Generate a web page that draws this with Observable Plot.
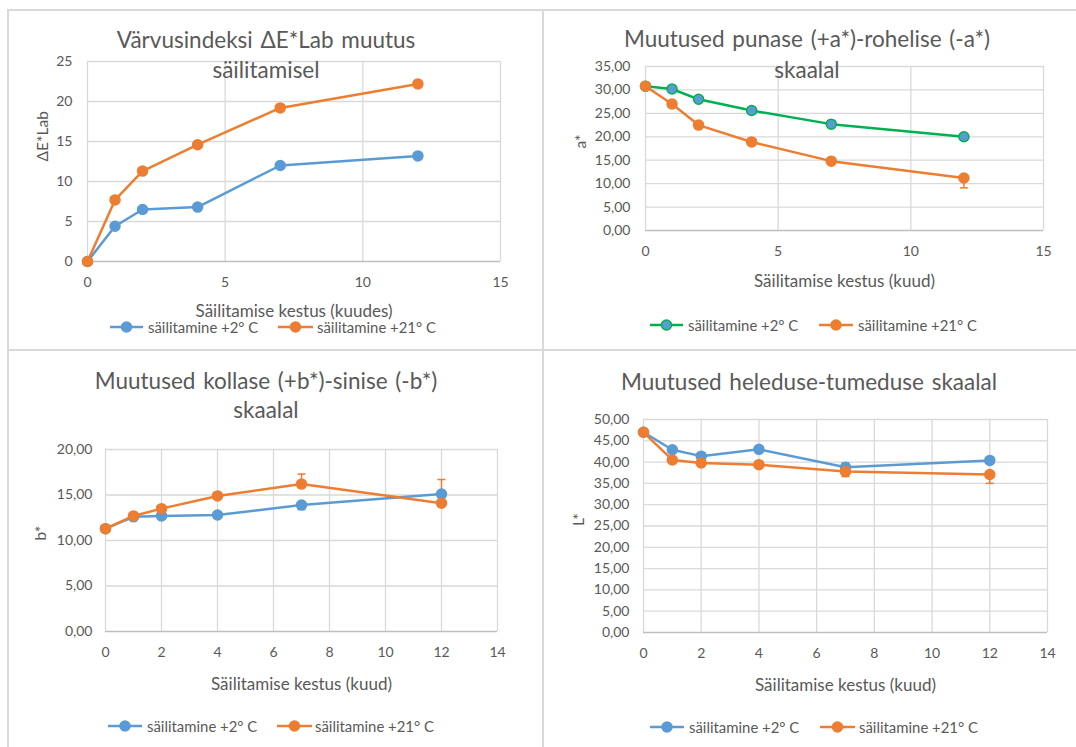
<!DOCTYPE html>
<html><head><meta charset="utf-8">
<script src="https://cdn.jsdelivr.net/npm/d3@7"></script>
<script src="https://cdn.jsdelivr.net/npm/@observablehq/plot@0.6"></script>
<style>
body{margin:0;background:#fff;font-family:Lato,"Open Sans",sans-serif;color:#595959}
#root{position:relative;width:1076px;height:747px;overflow:hidden;background:#fff}
.panel{position:absolute}
.title{position:absolute;width:600px;text-align:center;font-size:22.5px;line-height:1.2;white-space:nowrap;color:#595959;word-spacing:2px}
.legend{position:absolute;height:16px;display:flex;align-items:center;font-size:14.9px;white-space:nowrap;color:#595959}
.border{position:absolute;background:#d9d9d9}
</style></head><body><div id="root"></div>
<script>
// ---------- data ----------
const months = [0, 1, 2, 4, 7, 12];
const seriesNames = ["säilitamine +2° C", "säilitamine +21° C"];

const dE_2  = [0, 4.4, 6.5, 6.8, 12.0, 13.2];
const dE_21 = [0, 7.7, 11.3, 14.6, 19.2, 22.2];

const a_2  = [30.8, 30.2, 28.0, 25.6, 22.7, 20.0];
const a_21 = [30.8, 27.0, 22.5, 18.9, 14.8, 11.2];
const a_21_errMinus = [0, 0, 0, 0, 0, 2.1];

const b_2  = [11.3, 12.6, 12.7, 12.8, 13.9, 15.1];
const b_21 = [11.3, 12.7, 13.5, 14.9, 16.2, 14.1];
const b_2_errMinus = [0, 0, 0, 0, 0.5, 0];
const b_21_errPlus = [0, 0, 0, 0, 1.1, 2.6];

const L_2  = [47.0, 42.9, 41.4, 43.0, 38.8, 40.4];
const L_21 = [47.0, 40.5, 39.8, 39.4, 37.8, 37.1];
const L_2_errPlus = [0, 0, 0, 0, 1.0, 0];
const L_21_errMinus = [0, 0, 0, 0, 1.2, 2.1];

const titles = [
  ["Värvusindeksi ΔE*Lab muutus", "säilitamisel"],
  ["Muutused punase (+a*)-rohelise (-a*)", "skaalal"],
  ["Muutused kollase (+b*)-sinise (-b*)", "skaalal"],
  ["Muutused heleduse-tumeduse skaalal"]
];
const xLabels = ["Säilitamise kestus (kuudes)", "Säilitamise kestus (kuud)", "Säilitamise kestus (kuud)", "Säilitamise kestus (kuud)"];
const yLabels = ["ΔE*Lab", "a*", "b*", "L*"];
const xTicks15 = [0, 5, 10, 15];
const xTicks14 = [0, 2, 4, 6, 8, 10, 12, 14];
const yTicksDE = [0, 5, 10, 15, 20, 25];
const yTicksA = [0, 5, 10, 15, 20, 25, 30, 35];
const yTicksB = [0, 5, 10, 15, 20];
const yTicksL = [0, 5, 10, 15, 20, 25, 30, 35, 40, 45, 50];

// ---------- styles ----------
const BLUE = "#5b9bd5", ORANGE = "#ed7d31", GREEN = "#00b050";
const GRID = "#d9d9d9";
const FONT = "Lato, 'Open Sans', sans-serif";
const comma2 = d => d.toFixed(2).replace(".", ",");
const capSymbol = {draw(ctx, size) { const r = Math.sqrt(size / Math.PI); ctx.moveTo(-r, 0); ctx.lineTo(r, 0); }};

const root = document.getElementById("root");

function rowsOf(values, plus, minus) {
  return months.map((m, i) => ({m, v: values[i], hi: values[i] + (plus ? plus[i] : 0), lo: values[i] - (minus ? minus[i] : 0)}));
}

function makePanel(cfg) {
  const marks = [
    Plot.ruleX(cfg.xTicks, {stroke: GRID, strokeWidth: 1.3}),
    Plot.ruleY(cfg.yTicks.slice(1), {stroke: GRID, strokeWidth: 1.3}),
    Plot.ruleY([0], {stroke: "#bfbfbf", strokeWidth: 1.5}),
    Plot.axisX({ticks: cfg.xTicks, tickSize: 0, tickPadding: 16, tickFormat: d => String(d), label: null, fontSize: 14}),
    Plot.axisY({ticks: cfg.yTicks, tickSize: 0, tickPadding: cfg.yPad, tickFormat: cfg.yFmt, label: null, fontSize: 14}),
    Plot.text([cfg.xLabel], {text: d => d, frameAnchor: "bottom", lineAnchor: "bottom", dy: cfg.xLabelOffset, fontSize: 17, fill: "#595959"}),
    Plot.text([cfg.yLabel], {text: d => d, frameAnchor: "left", lineAnchor: "top", rotate: -90, dx: -cfg.yLabelOffset, fontSize: 15.5, fill: "#595959"})
  ];
  for (const s of cfg.series) {
    marks.push(Plot.line(s.rows, {x: "m", y: "v", stroke: s.color, strokeWidth: 2.5}));
  }
  for (const s of cfg.series) {
    const er = s.rows.filter(d => d.hi !== d.v || d.lo !== d.v);
    if (er.length) {
      marks.push(Plot.ruleX(er, {x: "m", y1: "lo", y2: "hi", stroke: s.color, strokeWidth: 1.5}));
      const caps = [];
      for (const d of er) { if (d.hi !== d.v) caps.push({m: d.m, e: d.hi}); if (d.lo !== d.v) caps.push({m: d.m, e: d.lo}); }
      marks.push(Plot.dot(caps, {x: "m", y: "e", symbol: capSymbol, r: 4, stroke: s.color, strokeWidth: 1.5, fill: "none"}));
    }
  }
  for (const s of cfg.series) {
    marks.push(Plot.dot(s.rows, {x: "m", y: "v", r: 5, fill: s.fill, stroke: s.stroke, strokeWidth: 1.5}));
  }
  const svg = Plot.plot({
    width: cfg.w, height: cfg.h,
    marginTop: cfg.m[0], marginRight: cfg.m[1], marginBottom: cfg.m[2], marginLeft: cfg.m[3],
    x: {domain: cfg.xDomain}, y: {domain: cfg.yDomain},
    style: {fontFamily: FONT, fontSize: "14px", color: "#595959", background: "transparent", overflow: "visible"},
    marks
  });
  const wrap = document.createElement("div");
  wrap.className = "panel";
  wrap.style.left = cfg.left + "px"; wrap.style.top = cfg.top + "px";
  wrap.appendChild(svg);
  root.appendChild(wrap);
}

function addTitle(lines, cx, baselines) {
  lines.forEach((t, i) => {
    const d = document.createElement("div");
    d.className = "title";
    d.textContent = t;
    d.style.left = (cx - 300) + "px";
    d.style.top = (baselines[i] - 0.987 * 22.5) + "px";
    root.appendChild(d);
  });
}

function addLegend(items, cy) {
  for (const it of items) {
    const d = document.createElement("div");
    d.className = "legend";
    d.style.left = it.x1 + "px";
    d.style.top = (cy - 8) + "px";
    const w = it.x2 - it.x1;
    d.innerHTML = `<svg width="${w}" height="16" style="overflow:visible"><line x1="0" x2="${w}" y1="8" y2="8" stroke="${it.color}" stroke-width="2.5"/><circle cx="${w/2}" cy="8" r="5" fill="${it.fill}" stroke="${it.stroke}" stroke-width="1.5"/></svg><span style="margin-left:${it.tx - it.x2}px">${it.label}</span>`;
    root.appendChild(d);
  }
}

// borders
[[7, 9, 1069, 2], [7, 9, 2, 738], [542, 9, 2, 738], [7, 349, 1069, 2]].forEach(([l, t, w, h]) => {
  const b = document.createElement("div"); b.className = "border";
  Object.assign(b.style, {left: l + "px", top: t + "px", width: w + "px", height: h + "px"});
  root.appendChild(b);
});

// panel 1
makePanel({left: 0, top: 0, w: 542, h: 348, m: [61, 42, 87, 87], xDomain: [0, 15], xTicks: xTicks15, yDomain: [0, 25], yTicks: yTicksDE,
  yFmt: d => String(d), yPad: 15, xLabel: xLabels[0], yLabel: yLabels[0], xLabelOffset: 55, yLabelOffset: 51,
  series: [{rows: rowsOf(dE_2), color: BLUE, fill: BLUE, stroke: BLUE}, {rows: rowsOf(dE_21), color: ORANGE, fill: ORANGE, stroke: ORANGE}]});
addTitle(titles[0], 266, [48, 78]);
addLegend([{x1: 110, x2: 143, tx: 148, color: BLUE, fill: BLUE, stroke: BLUE, label: seriesNames[0]},
           {x1: 278, x2: 313, tx: 317, color: ORANGE, fill: ORANGE, stroke: ORANGE, label: seriesNames[1]}], 327);

// panel 2
makePanel({left: 543, top: 0, w: 533, h: 350, m: [66, 33, 120, 102], xDomain: [0, 15], xTicks: xTicks15, yDomain: [0, 35], yTicks: yTicksA,
  yFmt: comma2, yPad: 15, xLabel: xLabels[1], yLabel: yLabels[1], xLabelOffset: 56, yLabelOffset: 71,
  series: [{rows: rowsOf(a_2), color: GREEN, fill: BLUE, stroke: GREEN}, {rows: rowsOf(a_21, null, a_21_errMinus), color: ORANGE, fill: ORANGE, stroke: ORANGE}]});
addTitle(titles[1], 807, [47, 78]);
addLegend([{x1: 650, x2: 683, tx: 688, color: GREEN, fill: BLUE, stroke: GREEN, label: seriesNames[0]},
           {x1: 819, x2: 853, tx: 858, color: ORANGE, fill: ORANGE, stroke: ORANGE, label: seriesNames[1]}], 325);

// panel 3
makePanel({left: 0, top: 348, w: 542, h: 399, m: [101, 45, 116, 105], xDomain: [0, 14], xTicks: xTicks14, yDomain: [0, 20], yTicks: yTicksB,
  yFmt: comma2, yPad: 13, xLabel: xLabels[2], yLabel: yLabels[2], xLabelOffset: 58, yLabelOffset: 71,
  series: [{rows: rowsOf(b_2, null, b_2_errMinus), color: BLUE, fill: BLUE, stroke: BLUE}, {rows: rowsOf(b_21, b_21_errPlus, null), color: ORANGE, fill: ORANGE, stroke: ORANGE}]});
addTitle(titles[2], 266, [389, 418]);
addLegend([{x1: 108, x2: 142, tx: 147, color: BLUE, fill: BLUE, stroke: BLUE, label: seriesNames[0]},
           {x1: 277, x2: 312, tx: 315, color: ORANGE, fill: ORANGE, stroke: ORANGE, label: seriesNames[1]}], 726);

// panel 4
makePanel({left: 543, top: 350, w: 533, h: 397, m: [69, 29, 115, 100], xDomain: [0, 14], xTicks: xTicks14, yDomain: [0, 50], yTicks: yTicksL,
  yFmt: comma2, yPad: 14, xLabel: xLabels[3], yLabel: yLabels[3], xLabelOffset: 58, yLabelOffset: 71,
  series: [{rows: rowsOf(L_2, L_2_errPlus, null), color: BLUE, fill: BLUE, stroke: BLUE}, {rows: rowsOf(L_21, null, L_21_errMinus), color: ORANGE, fill: ORANGE, stroke: ORANGE}]});
addTitle(titles[3], 809, [390]);
addLegend([{x1: 650, x2: 684, tx: 689, color: BLUE, fill: BLUE, stroke: BLUE, label: seriesNames[0]},
           {x1: 820, x2: 855, tx: 859, color: ORANGE, fill: ORANGE, stroke: ORANGE, label: seriesNames[1]}], 727);
</script></body></html>
